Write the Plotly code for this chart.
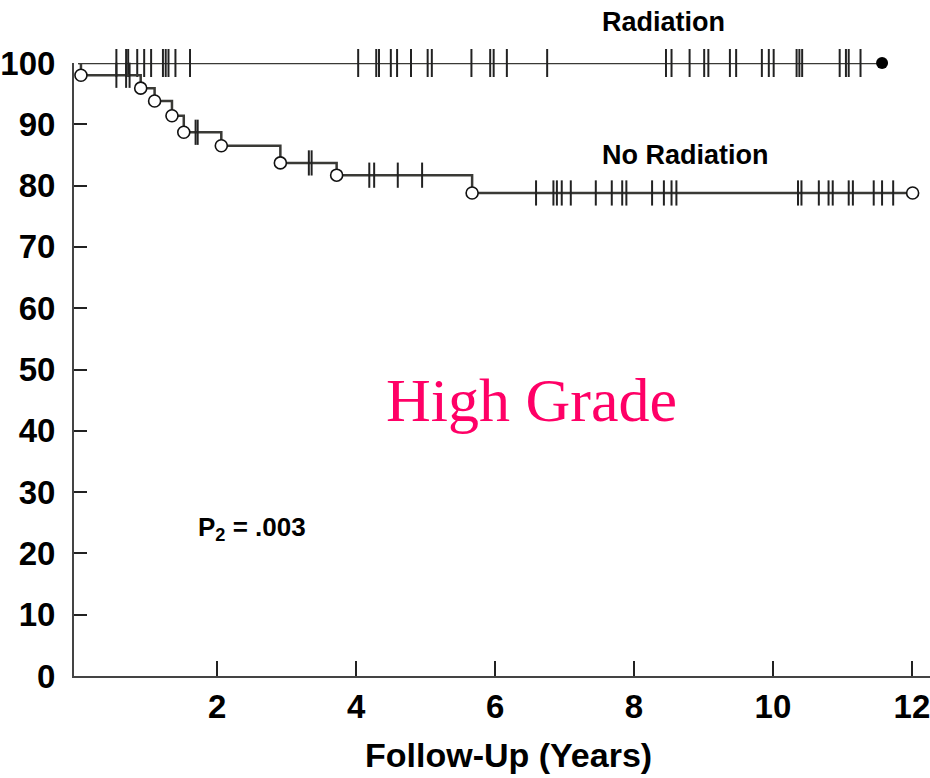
import plotly.graph_objects as go

# ---- data ----
rad_censor = [0.55, 0.69, 0.72, 0.85, 0.95, 1.05, 1.22, 1.26, 1.30, 1.40, 1.61,
              4.03, 4.29, 4.33, 4.50, 4.59, 4.79, 5.03, 5.09, 5.66, 5.93, 5.98, 6.17, 6.75,
              8.46, 8.54, 8.80, 9.01, 9.07, 9.38, 9.47, 9.84, 9.94, 10.01, 10.34, 10.38, 10.42,
              10.96, 11.05, 11.09, 11.26]
rad_end = 11.57

norad_event_t = [0.04, 0.90, 1.10, 1.35, 1.52, 2.06, 2.91, 3.72, 5.67]
norad_event_s = [98.0, 95.9, 93.8, 91.4, 88.7, 86.5, 83.7, 81.7, 78.8]
norad_censor = [0.55, 0.69, 0.74, 1.69, 1.72, 3.32, 3.36, 4.19, 4.26, 4.60, 4.95,
                6.59, 6.84, 6.89, 6.96, 7.09, 7.45, 7.68, 7.83, 7.89, 8.26, 8.43, 8.54, 8.61,
                10.36, 10.41, 10.66, 10.80, 10.86, 11.09, 11.15, 11.45, 11.57, 11.73]
norad_end = 12.01

y_ticks = list(range(0, 101, 10))
x_ticks = [2, 4, 6, 8, 10, 12]

LINE = "#3a3a36"
SANS = "Liberation Sans, Arial, sans-serif"

def surv_at(t):
    s = 100.0
    for et, es in zip(norad_event_t, norad_event_s):
        if t >= et:
            s = es
    return s

fig = go.Figure()

# Radiation curve
fig.add_trace(go.Scatter(x=[0, rad_end], y=[100, 100], mode="lines",
                         line=dict(color=LINE, width=2.5), cliponaxis=False, showlegend=False))
fig.add_trace(go.Scatter(x=rad_censor, y=[100] * len(rad_censor), mode="markers",
                         marker=dict(symbol="line-ns", size=20, line=dict(color="#222", width=2)),
                         cliponaxis=False, showlegend=False))
fig.add_trace(go.Scatter(x=[rad_end], y=[100], mode="markers",
                         marker=dict(symbol="circle", size=12, color="black"),
                         cliponaxis=False, showlegend=False))

# No radiation curve
nx = [0] + norad_event_t + [norad_end]
ny = [100] + norad_event_s + [norad_event_s[-1]]
fig.add_trace(go.Scatter(x=nx, y=ny, mode="lines", line=dict(color=LINE, width=2.5, shape="hv"),
                         cliponaxis=False, showlegend=False))
fig.add_trace(go.Scatter(x=norad_censor, y=[surv_at(t) for t in norad_censor], mode="markers",
                         marker=dict(symbol="line-ns", size=18, line=dict(color="#222", width=2)),
                         cliponaxis=False, showlegend=False))
fig.add_trace(go.Scatter(x=norad_event_t + [norad_end], y=norad_event_s + [norad_event_s[-1]],
                         mode="markers",
                         marker=dict(symbol="circle", size=12, color="white",
                                     line=dict(color="#111", width=1.6)),
                         cliponaxis=False, showlegend=False))

tickfont = dict(family=SANS, size=33, color="black")

fig.update_layout(
    width=930, height=778,
    margin=dict(l=64, r=0, t=63, b=102),
    paper_bgcolor="white", plot_bgcolor="white",
    xaxis=dict(range=[-0.06, 12.26], tickvals=x_ticks, ticktext=["<b>%d</b>" % v for v in x_ticks],
               ticks="inside", ticklen=15, tickwidth=2, tickcolor="#222",
               showline=True, linecolor="#444", linewidth=2, showgrid=False, zeroline=False,
               tickfont=tickfont, ticklabelstandoff=0, ticklabeloverflow="allow"),
    yaxis=dict(range=[0, 100], tickvals=y_ticks, ticktext=["<b>%d</b>" % v for v in y_ticks],
               ticks="inside", ticklen=13, tickwidth=2, tickcolor="#222",
               showline=True, linecolor="#444", linewidth=2, showgrid=False, zeroline=False,
               tickfont=tickfont, ticklabelstandoff=10, ticklabeloverflow="allow"),
    annotations=[
        dict(x=0.615, y=1.067, xref="paper", yref="paper", text="<b>Radiation</b>", showarrow=False,
             xanchor="left", yanchor="middle", font=dict(family=SANS, size=27, color="black")),
        dict(x=0.615, y=0.850, xref="paper", yref="paper", text="<b>No Radiation</b>", showarrow=False,
             xanchor="left", yanchor="middle", font=dict(family=SANS, size=27, color="black")),
        dict(x=4.40, y=45.0, xref="x", yref="y", text="High Grade", showarrow=False,
             xanchor="left", yanchor="middle",
             font=dict(family="Liberation Serif, Times New Roman, serif", size=62, color="#FF0066")),
        dict(x=1.69, y=24.1, xref="x", yref="y", text="<b>P<sub>2</sub> = .003</b>", showarrow=False,
             xanchor="left", yanchor="middle", font=dict(family=SANS, size=26, color="black")),
        dict(x=0.508, y=-0.129, xref="paper", yref="paper", text="<b>Follow-Up (Years)</b>",
             showarrow=False, xanchor="center", yanchor="middle",
             font=dict(family=SANS, size=34, color="black")),
    ],
)

fig.write_html("out.html")
